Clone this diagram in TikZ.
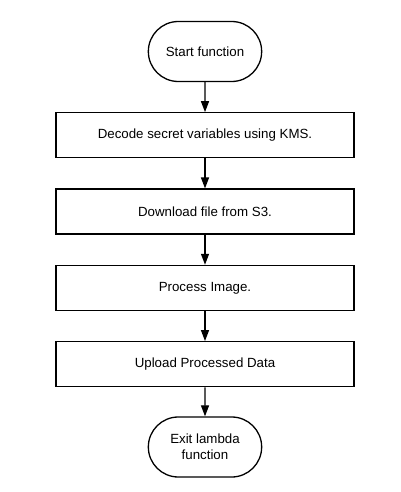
\documentclass[tikz,border=0pt]{standalone}
\usepackage{fontspec}
\setmainfont{Liberation Sans}
\usetikzlibrary{positioning, arrows.meta, shapes.misc}

\begin{document}
\begin{tikzpicture}[x=1pt, y=1pt, node distance=30pt, auto=center]
                \tikzstyle{term} = [rounded rectangle, draw, line width=1.3pt, minimum width=120pt, minimum height=60pt, font=\fontsize{13.3}{16}\selectfont, align=center]
                \tikzstyle{proc} = [rectangle, draw, line width=1.3pt, minimum width=298pt, minimum height=45pt, font=\fontsize{13.3}{16}\selectfont]
                \tikzstyle{flow} = [line width=1.3pt, -{Triangle[width=8pt, length=11pt]}]

                \useasboundingbox (0,0) rectangle (400,-492);

                % Terminals and steps, top to bottom
                \node[term] (start) at (205,-51.5) {Start function};
                \node[proc] (decode) [below=of start] {Decode secret variables using KMS.};
                \node[proc] (download) [below=of decode] {Download file from S3.};
                \node[proc] (process) [below=of download] {Process Image.};
                \node[proc] (upload) [below=of process] {Upload Processed Data};
                \node[term] (exit) [below=29pt of upload] {Exit lambda\\function};

                % Arrows
                \draw[flow] (start) -- (decode);
                \draw[flow] (decode) -- (download);
                \draw[flow] (download) -- (process);
                \draw[flow] (process) -- (upload);
                \draw[flow] (upload) -- (exit);
            \end{tikzpicture}
\end{document}
